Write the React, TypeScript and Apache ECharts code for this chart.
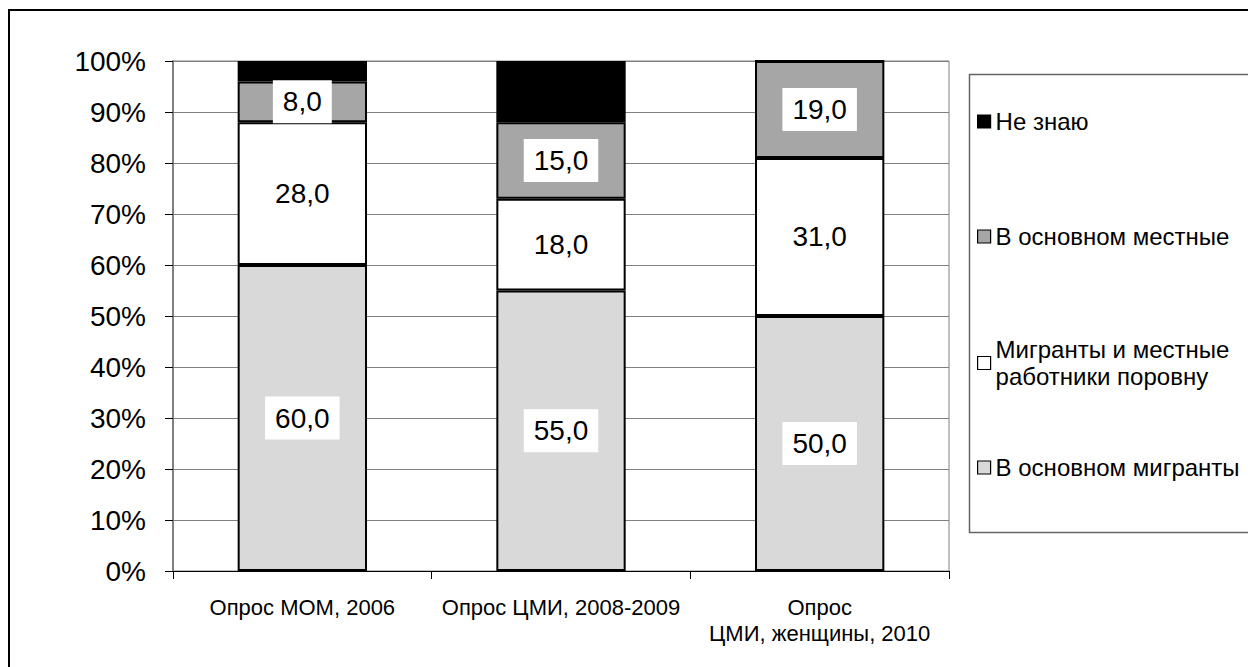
import React, { useEffect, useRef } from "react";
import * as echarts from "echarts";

const categories = ["Опрос МОМ, 2006", "Опрос ЦМИ, 2008-2009", "Опрос\nЦМИ, женщины, 2010"];
const seriesNames = [
  "В основном мигранты",
  "Мигранты и местные\nработники поровну",
  "В основном местные",
  "Не знаю",
];
const mostlyMigrants = [60, 55, 50];
const equally = [28, 18, 31];
const mostlyLocals = [8, 15, 19];
const dontKnow = [4, 12, 0];
const yTicks = [0, 10, 20, 30, 40, 50, 60, 70, 80, 90, 100];

const colors = ["#d9d9d9", "#ffffff", "#a6a6a6", "#000000"];
const FONT = "'Liberation Sans', Arial, sans-serif";

export default function App() {
  const ref = useRef<HTMLDivElement>(null);
  useEffect(() => {
    if (!ref.current) return;
    const chart = echarts.init(ref.current, null, { renderer: "svg" });
    const values = [mostlyMigrants, equally, mostlyLocals, dontKnow];
    const labelCfg = {
      show: true,
      position: "inside",
      backgroundColor: "#ffffff",
      padding: [6, 10, 5, 10],
      color: "#000",
      fontSize: 28,
      lineHeight: 32,
      fontFamily: FONT,
      formatter: (p: any) => Number(p.value).toFixed(1).replace(".", ","),
    };
    const series = values.map((v, i) => ({
      name: seriesNames[i],
      type: "bar",
      stack: "total",
      barWidth: "50%",
      data: v,
      itemStyle: { color: colors[i], borderColor: "#000", borderWidth: 2 },
      label: i < 3 ? labelCfg : { show: false },
    }));
    const legendTops = [108, 223, 336, 454];
    const legendOrder = [3, 2, 1, 0];
    const legends = legendOrder.map((si, k) => ({
      data: [seriesNames[si]],
      left: 977,
      top: legendTops[k],
      padding: 0,
      orient: "vertical",
      icon: "rect",
      itemWidth: 13,
      itemHeight: 13,
      itemGap: 0,
      selectedMode: false,
      itemStyle: { borderColor: "#000", borderWidth: 1.2 },
      textStyle: { fontSize: 24, color: "#000", fontFamily: FONT, lineHeight: 27 },
    }));
    chart.setOption({
      animation: false,
      backgroundColor: "#ffffff",
      textStyle: { fontFamily: FONT },
      grid: {
        left: 173,
        right: 299,
        top: 61,
        bottom: 96,
        show: true,
        borderColor: "#808080",
        borderWidth: 1,
        backgroundColor: "transparent",
      },
      legend: legends,
      xAxis: {
        type: "category",
        data: categories,
        axisLine: { show: true, lineStyle: { color: "#000", width: 1 } },
        axisTick: { show: true, length: 8, lineStyle: { color: "#000" } },
        axisLabel: {
          color: "#000",
          fontSize: 22,
          margin: 23,
          lineHeight: 26,
          fontFamily: FONT,
          interval: 0,
          hideOverlap: false,
        },
      },
      yAxis: {
        type: "value",
        min: 0,
        max: 100,
        interval: 10,
        axisLine: { show: true, lineStyle: { color: "#808080", width: 2 } },
        axisTick: { show: true, length: 8, lineStyle: { color: "#000" } },
        axisLabel: {
          color: "#000",
          fontSize: 28,
          margin: 27,
          fontFamily: FONT,
          formatter: (v: number) => (yTicks.includes(v) ? v + "%" : ""),
        },
        splitLine: { show: true, lineStyle: { color: "#808080", width: 1 } },
      },
      series,
      graphic: [
        {
          type: "rect",
          shape: { x: 9, y: 10, width: 1400, height: 800 },
          style: { fill: "none", stroke: "#000", lineWidth: 2 },
          silent: true,
        },
        {
          type: "rect",
          shape: { x: 969.5, y: 74.5, width: 400, height: 458 },
          style: { fill: "none", stroke: "#666", lineWidth: 1.5 },
          silent: true,
        },
      ],
    });
    return () => chart.dispose();
  }, []);
  return (
    <div
      ref={ref}
      style={{ position: "fixed", left: 0, top: 0, width: 1248, height: 667 }}
    />
  );
}
